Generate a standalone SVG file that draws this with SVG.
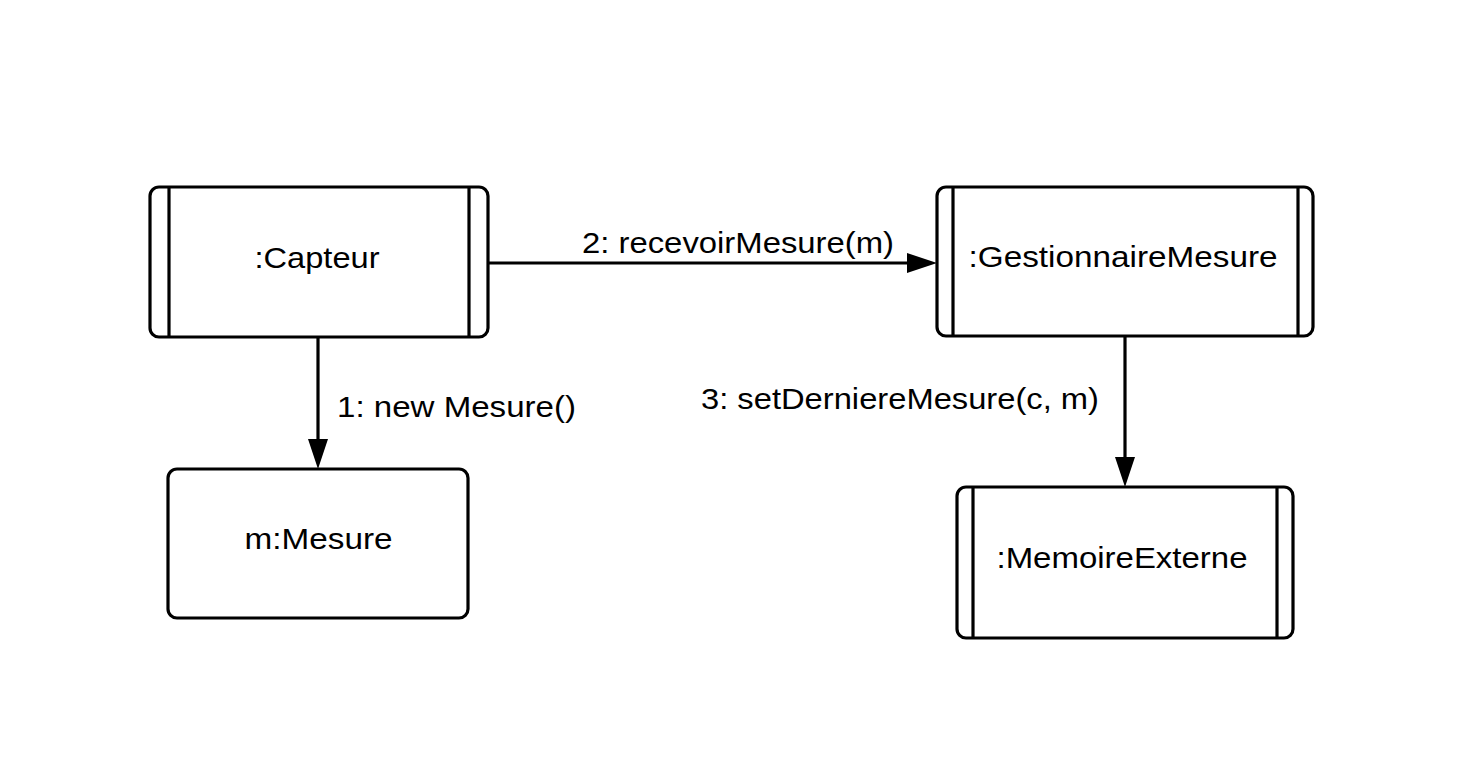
<svg xmlns="http://www.w3.org/2000/svg" width="1475" height="775" viewBox="0 0 1475 775">
<style>
.box{fill:#fff;stroke:#000;stroke-width:3.2}
.bar{stroke:#000;stroke-width:3.2;fill:none}
.conn{stroke:#000;stroke-width:3.2;fill:none}
text{font-family:"Liberation Sans",Arial,sans-serif;font-size:30px;fill:#000}
.c{text-anchor:middle}
</style>
<defs>
<marker id="arr" viewBox="0 0 30 20" refX="2" refY="10" markerWidth="30" markerHeight="20" markerUnits="userSpaceOnUse" orient="auto">
<path d="M0,0 L30,10 L0,20 z" fill="#000"/>
</marker>
</defs>
<rect width="1475" height="775" fill="#fff"/>
<g id="connectors">
<path class="conn" d="M318,337 V441" marker-end="url(#arr)"/>
<path class="conn" d="M488,263 H909" marker-end="url(#arr)"/>
<path class="conn" d="M1125,336 V459" marker-end="url(#arr)"/>
<text x="582" y="253" textLength="312" lengthAdjust="spacingAndGlyphs">2: recevoirMesure(m)</text>
<text x="337" y="417" textLength="239" lengthAdjust="spacingAndGlyphs">1: new Mesure()</text>
<text x="701" y="409" textLength="398" lengthAdjust="spacingAndGlyphs">3: setDerniereMesure(c, m)</text>
</g>
<g id="capteur">
<rect class="box" x="150" y="187" width="338" height="150" rx="9"/>
<line class="bar" x1="169" y1="187" x2="169" y2="337"/>
<line class="bar" x1="469" y1="187" x2="469" y2="337"/>
<text class="c" x="317" y="268" textLength="125" lengthAdjust="spacingAndGlyphs">:Capteur</text>
</g>
<g id="gestionnaire">
<rect class="box" x="937" y="187" width="376" height="149" rx="9"/>
<line class="bar" x1="953" y1="187" x2="953" y2="336"/>
<line class="bar" x1="1298" y1="187" x2="1298" y2="336"/>
<text class="c" x="1123" y="267" textLength="309" lengthAdjust="spacingAndGlyphs">:GestionnaireMesure</text>
</g>
<g id="mesure">
<rect class="box" x="168" y="469" width="300" height="149" rx="9"/>
<text class="c" x="318.5" y="549" textLength="148" lengthAdjust="spacingAndGlyphs">m:Mesure</text>
</g>
<g id="memoire">
<rect class="box" x="957" y="487" width="336" height="151" rx="9"/>
<line class="bar" x1="973" y1="487" x2="973" y2="638"/>
<line class="bar" x1="1277" y1="487" x2="1277" y2="638"/>
<text class="c" x="1122" y="568" textLength="251" lengthAdjust="spacingAndGlyphs">:MemoireExterne</text>
</g>
</svg>
